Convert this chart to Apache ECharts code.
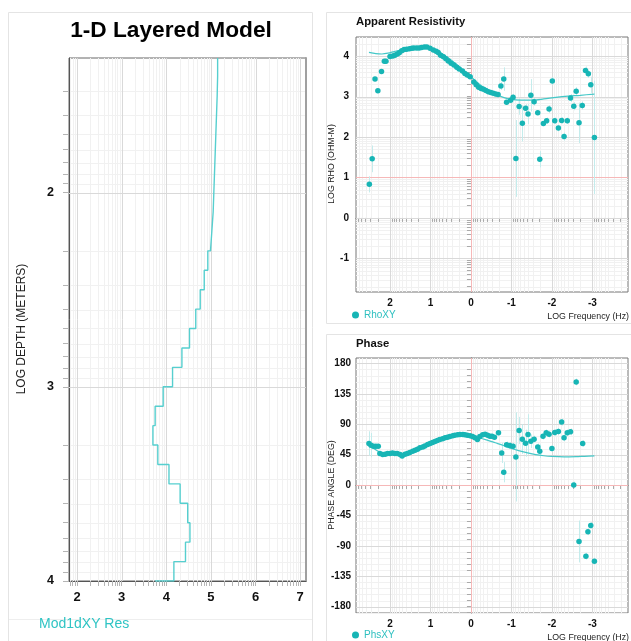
<!DOCTYPE html>
<html><head><meta charset="utf-8">
<script src="https://cdn.jsdelivr.net/npm/echarts@6/dist/echarts.min.js"></script>
<style>html,body{margin:0;padding:0;background:#fff}#c{width:631px;height:641px}</style>
</head><body><div id="c"></div>
<script>
// ---------------- DATA ----------------
// 1-D layered model: log10 depth of each layer top and log10 resistivity
const layerTop = [1.30,1.40,1.50,1.60,1.70,1.80,1.90,2.00,2.10,2.20,2.30,2.40,2.50,2.60,2.70,2.80,2.90,3.00,3.10,3.20,3.30,3.40,3.50,3.60,3.70,3.80,3.90];
const layerRes = [5.15,5.14,5.125,5.11,5.095,5.08,5.065,5.05,5.02,4.99,4.93,4.85,4.76,4.66,4.52,4.35,4.14,3.93,3.75,3.70,3.81,4.06,4.31,4.48,4.53,4.43,4.17];
const modelBottom = 4.0;
const halfSpaceRes = 3.75;
const depthTicks = [2,3,4];
const resTicks = [2,3,4,5,6,7];

// Apparent resistivity (log10 frequency, log10 rho, error half-width)
const rhoFreq = [2.51,2.44,2.37,2.30,2.21,2.14,2.10,2.00,1.93,1.88,1.82,1.77,1.71,1.65,1.59,1.52,1.46,1.41,1.34,1.28,1.22,1.15,1.09,1.01,0.93,0.86,0.81,0.75,0.68,0.62,0.56,0.49,0.42,0.35,0.29,0.21,0.15,0.09,0.02,-0.07,-0.13,-0.19,-0.25,-0.31,-0.37,-0.43,-0.49,-0.55,-0.61,-0.67,-0.74,-0.81,-0.88,-0.98,-1.04,-1.11,-1.19,-1.27,-1.35,-1.41,-1.48,-1.56,-1.65,-1.70,-1.79,-1.87,-1.93,-2.01,-2.07,-2.16,-2.24,-2.30,-2.38,-2.46,-2.54,-2.60,-2.67,-2.75,-2.83,-2.90,-2.96,-3.05];
const rhoVal  = [0.83,1.46,3.43,3.14,3.62,3.87,3.87,3.99,4.00,4.02,4.05,4.08,4.13,4.16,4.17,4.18,4.19,4.20,4.20,4.20,4.21,4.22,4.22,4.19,4.15,4.12,4.09,4.02,3.98,3.93,3.88,3.82,3.78,3.72,3.68,3.63,3.57,3.53,3.49,3.36,3.29,3.23,3.20,3.18,3.15,3.12,3.10,3.08,3.06,3.05,3.26,3.43,2.86,2.91,2.98,1.47,2.75,2.34,2.71,2.57,3.03,2.87,2.60,1.45,2.33,2.40,2.69,3.38,2.40,2.22,2.41,2.01,2.40,2.96,2.76,3.13,2.35,2.78,3.64,3.56,3.29,1.99];
const rhoErr  = [0.20,0.33,0.05,0.04,0.03,0.02,0.02,0.02,0.01,0.01,0.01,0.01,0.01,0.01,0.01,0.01,0.01,0.01,0.01,0.01,0.01,0.01,0.01,0.01,0.01,0.01,0.01,0.01,0.01,0.01,0.01,0.01,0.01,0.01,0.01,0.01,0.01,0.01,0.01,0.01,0.01,0.01,0.01,0.01,0.01,0.01,0.01,0.01,0.01,0.01,0.10,0.29,0.05,0.06,0.08,0.95,0.20,0.45,0.10,0.25,0.40,0.10,0.05,0.20,0.05,0.08,0.10,0.10,0.08,0.08,0.08,0.10,0.08,0.10,0.10,0.10,0.50,0.10,0.10,0.10,0.20,1.40];
const rhoModelFreq = [2.52,2.35,2.20,2.05,1.90,1.70,1.50,1.30,1.10,0.95,0.80,0.60,0.40,0.20,0.00,-0.20,-0.40,-0.60,-0.80,-1.00,-1.20,-1.50,-1.80,-2.10,-2.40,-2.70,-3.05];
const rhoModelVal  = [4.09,4.06,4.05,4.07,4.11,4.16,4.20,4.22,4.22,4.18,4.11,3.98,3.83,3.66,3.49,3.31,3.17,3.06,2.98,2.93,2.91,2.91,2.94,2.98,3.01,3.03,3.06];
const rhoTicks = [-1,0,1,2,3,4];

// Phase (log10 frequency, degrees, error half-width)
const phsFreq = [2.52,2.47,2.41,2.35,2.29,2.25,2.18,2.12,2.06,2.00,1.94,1.88,1.82,1.75,1.70,1.63,1.57,1.51,1.44,1.38,1.32,1.26,1.19,1.14,1.07,1.01,0.95,0.89,0.83,0.77,0.70,0.64,0.58,0.52,0.45,0.40,0.33,0.27,0.20,0.15,0.09,0.02,-0.04,-0.10,-0.16,-0.22,-0.29,-0.35,-0.41,-0.47,-0.52,-0.58,-0.68,-0.76,-0.81,-0.88,-0.96,-1.04,-1.11,-1.19,-1.27,-1.35,-1.41,-1.48,-1.56,-1.65,-1.70,-1.78,-1.86,-1.93,-2.00,-2.07,-2.16,-2.24,-2.30,-2.38,-2.46,-2.54,-2.60,-2.67,-2.76,-2.84,-2.89,-2.96,-3.05];
const phsVal  = [61.5,59,57.5,57.5,57.5,46.6,45.1,45.6,46.6,46.6,47.5,46.6,46.6,45.1,43.1,45.6,46.6,48.1,50,51.5,53,55,56.4,57.9,60,61.5,63,64.4,65.9,67.4,68.3,69.8,70.8,71.8,72.8,73.8,74.3,74.8,74.8,74.3,73.8,72.8,71.8,69.8,67.4,71.8,74.3,75.3,73.8,72.3,72.3,70.8,77.2,47.5,18.9,59.4,58.5,57.5,41.6,80.8,67.9,61.9,74.8,64.9,67.9,56.4,50,72.3,77.2,75.3,54,77.8,79.3,93.1,69.8,77.2,78.7,0,152.5,-83.6,61.5,-105.4,-69.2,-59.8,-112.9];
const phsErr  = [18,18,3,3,3,2,2,2,2,2,2,2,2,2,2,2,2,2,2,2,2,2,2,2,2,2,2,2,2,2,2,2,2,2,2,2,2,2,2,2,2,2,2,2,2,2,2,2,2,2,2,2,4,15,15,5,5,5,66,20,22,20,30,10,5,5,10,5,5,5,5,5,5,5,5,5,5,5,5,31,5,5,5,5,5];
const phsModelFreq = [2.52,2.40,2.25,2.10,1.95,1.80,1.60,1.40,1.20,1.00,0.80,0.60,0.40,0.20,0.00,-0.20,-0.40,-0.60,-0.80,-1.00,-1.20,-1.40,-1.60,-1.80,-2.00,-2.30,-2.60,-2.80,-3.05];
const phsModelVal  = [60,54,48.5,45.8,45,45.2,46.5,50,55.5,61,66,70,72.5,73.3,72.5,70,66.5,62.5,58.5,54,50.5,47.5,45,43.3,42.3,41.7,42,42.5,43];
const phsTicks = [-180,-135,-90,-45,0,45,90,135,180];
const freqTicks = [-3,-2,-1,0,1,2];

// ---------------- HELPERS ----------------
const FONT = "'Liberation Sans', Arial, Helvetica, sans-serif";
const TEAL = '#17b5b5';
const TEAL_LINE = '#45c8c8';
const ERR = '#c4ecec';
const MAJ = '#d9d9d9', MIN = '#f1f1f1', RED = '#f6b8b8';

const EXT = {
  resX: [1.82, 7.13], depthY: [1.307, 4.0],
  freqX: [-3.88, 2.84], rhoY: [-1.83, 4.47], phsY: [-189.5, 188]
};

function logPositions(lo, hi) {
  const out = [];
  for (let n = Math.floor(lo) - 1; n <= Math.ceil(hi); n++) {
    for (let k = 1; k <= 9; k++) {
      const v = n + Math.log10(k);
      if (v >= lo - 1e-9 && v <= hi + 1e-9) out.push(+v.toFixed(6));
    }
  }
  return out;
}
function minorOnly(arr) { return arr.filter(v => Math.abs(v - Math.round(v)) > 1e-6); }
function linPositions(lo, hi, step) {
  const out = [];
  for (let v = Math.ceil(lo / step) * step; v <= hi + 1e-9; v += step) out.push(+v.toFixed(6));
  return out;
}

// grid-line series drawn through the axes
function gridLines(idx, vals, dir, ref, color, width, z) {
  return {
    type: 'custom', xAxisIndex: idx, yAxisIndex: idx, silent: true, z: z, clip: false,
    encode: {x: 0, y: 1},
    data: vals.map(v => dir === 'v' ? [v, ref] : [ref, v]),
    renderItem: function (params, api) {
      const cs = params.coordSys;
      const p = api.coord([api.value(0), api.value(1)]);
      if (dir === 'v') {
        const x = Math.round(p[0]) + 0.5;
        return {type: 'line', silent: true, shape: {x1: x, y1: cs.y, x2: x, y2: cs.y + cs.height}, style: {stroke: color, lineWidth: width}};
      }
      const y = Math.round(p[1]) + 0.5;
      return {type: 'line', silent: true, shape: {x1: cs.x, y1: y, x2: cs.x + cs.width, y2: y}, style: {stroke: color, lineWidth: width}};
    }
  };
}
function errorBars(idx, xs, ys, es) {
  return {
    type: 'custom', xAxisIndex: idx, yAxisIndex: idx, silent: true, z: 3,
    encode: {x: 0, y: 1},
    data: xs.map((x, i) => [x, ys[i], es[i]]),
    renderItem: function (params, api) {
      const x = api.value(0), y = api.value(1), e = api.value(2);
      const a = api.coord([x, y - e]), b = api.coord([x, y + e]);
      const px = Math.round(a[0]) + 0.5;
      return {type: 'line', silent: true, shape: {x1: px, y1: a[1], x2: px, y2: b[1]}, style: {stroke: ERR, lineWidth: 1}};
    }
  };
}

// model line points
const modelPts = [];
for (let i = 0; i < layerTop.length; i++) {
  const top = Math.max(layerTop[i], EXT.depthY[0]);
  const bot = i + 1 < layerTop.length ? layerTop[i + 1] : modelBottom;
  modelPts.push([layerRes[i], top], [layerRes[i], bot]);
}
modelPts.push([halfSpaceRes, modelBottom]);

const resLog = logPositions(EXT.resX[0], EXT.resX[1]);
const depthLog = logPositions(EXT.depthY[0], EXT.depthY[1]);
const freqLog = logPositions(EXT.freqX[0], EXT.freqX[1]);
const rhoLog = logPositions(EXT.rhoY[0], EXT.rhoY[1]);
const phsMinor = linPositions(EXT.phsY[0], EXT.phsY[1], 9);

const labelBold = (size, margin) => ({fontFamily: FONT, fontWeight: 'bold', fontSize: size, color: '#111', margin: margin});

const option = {
  animation: false,
  backgroundColor: '#fff',
  grid: [
    {left: 69, top: 58, width: 237, height: 523, show: true, borderColor: '#666', borderWidth: 1, backgroundColor: 'transparent'},
    {left: 356, top: 37, width: 272, height: 255, show: true, borderColor: '#777', borderWidth: 1, backgroundColor: 'transparent'},
    {left: 356, top: 358, width: 272, height: 255, show: true, borderColor: '#777', borderWidth: 1, backgroundColor: 'transparent'}
  ],
  xAxis: [
    {gridIndex: 0, type: 'value', min: EXT.resX[0], max: EXT.resX[1],
      axisLine: {show: true, lineStyle: {color: '#555'}},
      axisTick: {show: true, customValues: resLog, length: 5, lineStyle: {color: '#b5b5b5'}},
      axisLabel: Object.assign({customValues: resTicks}, labelBold(13, 10)),
      splitLine: {show: false}},
    {gridIndex: 1, type: 'value', inverse: true, min: EXT.freqX[0], max: EXT.freqX[1],
      axisLine: {show: true, lineStyle: {color: '#666'}},
      axisTick: {show: true, customValues: freqLog, length: 4, lineStyle: {color: '#aaa'}},
      axisLabel: Object.assign({customValues: freqTicks}, labelBold(10, 6)),
      splitLine: {show: false}},
    {gridIndex: 2, type: 'value', inverse: true, min: EXT.freqX[0], max: EXT.freqX[1],
      axisLine: {show: true, lineStyle: {color: '#666'}},
      axisTick: {show: true, customValues: freqLog, length: 4, lineStyle: {color: '#aaa'}},
      axisLabel: Object.assign({customValues: freqTicks}, labelBold(10, 6)),
      splitLine: {show: false}}
  ],
  yAxis: [
    {gridIndex: 0, type: 'value', inverse: true, min: EXT.depthY[0], max: EXT.depthY[1],
      axisLine: {show: true, lineStyle: {color: '#555'}},
      axisTick: {show: true, customValues: depthLog, length: 6, lineStyle: {color: '#b5b5b5'}},
      axisLabel: Object.assign({customValues: depthTicks}, labelBold(12.5, 15)),
      splitLine: {show: false}},
    {gridIndex: 1, type: 'value', min: EXT.rhoY[0], max: EXT.rhoY[1],
      axisLine: {show: true, lineStyle: {color: '#666'}},
      axisTick: {show: true, customValues: rhoLog, length: 4, lineStyle: {color: '#aaa'}},
      axisLabel: Object.assign({customValues: rhoTicks}, labelBold(10, 7)),
      splitLine: {show: false}},
    {gridIndex: 2, type: 'value', min: EXT.phsY[0], max: EXT.phsY[1],
      axisLine: {show: true, lineStyle: {color: '#666'}},
      axisTick: {show: true, customValues: phsMinor, length: 4, lineStyle: {color: '#aaa'}},
      axisLabel: Object.assign({customValues: phsTicks}, labelBold(10, 5)),
      splitLine: {show: false}},
    {gridIndex: 0, type: 'value', position: 'right', inverse: true, min: EXT.depthY[0], max: EXT.depthY[1],
      axisLine: {show: true, lineStyle: {color: '#a0a0a0', width: 2}},
      axisTick: {show: false}, axisLabel: {show: false}, splitLine: {show: false}}
  ],
  legend: [
    {data: ['RhoXY'], left: 352, top: 310, padding: 0, icon: 'circle', itemWidth: 7, itemHeight: 7, selectedMode: false,
      textStyle: {color: '#2fc0c0', fontSize: 10, fontFamily: FONT}},
    {data: ['PhsXY'], left: 352, top: 630, padding: 0, icon: 'circle', itemWidth: 7, itemHeight: 7, selectedMode: false,
      textStyle: {color: '#2fc0c0', fontSize: 10, fontFamily: FONT}}
  ],
  series: [
    // left panel grid
    gridLines(0, minorOnly(resLog), 'v', 2, MIN, 1, 0),
    gridLines(0, minorOnly(depthLog), 'h', 2, MIN, 1, 0),
    gridLines(0, resTicks, 'v', 2, MAJ, 1, 1),
    gridLines(0, depthTicks.filter(v => v < EXT.depthY[1]), 'h', 2, MAJ, 1, 1),
    // rho grid
    gridLines(1, minorOnly(freqLog), 'v', 0, MIN, 1, 0),
    gridLines(1, minorOnly(rhoLog), 'h', 0, MIN, 1, 0),
    gridLines(1, freqTicks.filter(v => v !== 0), 'v', 0, MAJ, 1, 1),
    gridLines(1, rhoTicks.filter(v => v !== 1), 'h', 0, MAJ, 1, 1),
    gridLines(1, [0], 'v', 0, RED, 1, 1),
    gridLines(1, [1], 'h', 0, RED, 1, 1),
    // phase grid
    gridLines(2, minorOnly(freqLog), 'v', 0, MIN, 1, 0),
    gridLines(2, phsMinor.filter(v => v % 45 !== 0), 'h', 0, MIN, 1, 0),
    gridLines(2, freqTicks.filter(v => v !== 0), 'v', 0, MAJ, 1, 1),
    gridLines(2, phsTicks.filter(v => v !== 0), 'h', 0, MAJ, 1, 1),
    gridLines(2, [0], 'v', 0, RED, 1, 1),
    gridLines(2, [0], 'h', 0, RED, 1, 1),
    // layered model
    {name: 'Mod1dXY Res', type: 'line', xAxisIndex: 0, yAxisIndex: 0, data: modelPts, showSymbol: false, z: 5,
      lineStyle: {color: '#56cfcf', width: 1.4}, silent: true},
    // apparent resistivity
    errorBars(1, rhoFreq, rhoVal, rhoErr),
    {name: 'RhoModel', type: 'line', xAxisIndex: 1, yAxisIndex: 1, data: rhoModelFreq.map((f, i) => [f, rhoModelVal[i]]),
      showSymbol: false, smooth: 0.3, z: 4, lineStyle: {color: TEAL_LINE, width: 1.2}, silent: true},
    {name: 'RhoXY', type: 'scatter', xAxisIndex: 1, yAxisIndex: 1, data: rhoFreq.map((f, i) => [f, rhoVal[i]]),
      symbolSize: 5.5, itemStyle: {color: TEAL, opacity: 1}, z: 5, silent: true},
    // phase
    errorBars(2, phsFreq, phsVal, phsErr),
    {name: 'PhsModel', type: 'line', xAxisIndex: 2, yAxisIndex: 2, data: phsModelFreq.map((f, i) => [f, phsModelVal[i]]),
      showSymbol: false, smooth: 0.3, z: 4, lineStyle: {color: TEAL_LINE, width: 1.2}, silent: true},
    {name: 'PhsXY', type: 'scatter', xAxisIndex: 2, yAxisIndex: 2, data: phsFreq.map((f, i) => [f, phsVal[i]]),
      symbolSize: 5.5, itemStyle: {color: TEAL, opacity: 1}, z: 5, silent: true}
  ],
  graphic: [
    {type: 'rect', silent: true, z: -10, shape: {x: 8.5, y: 12.5, width: 304, height: 660}, style: {fill: 'none', stroke: '#e4e4e4', lineWidth: 1}},
    {type: 'line', silent: true, z: -10, shape: {x1: 9, y1: 619.5, x2: 312, y2: 619.5}, style: {stroke: '#eeeeee', lineWidth: 1}},
    {type: 'rect', silent: true, z: -10, shape: {x: 326.5, y: 12.5, width: 320, height: 311}, style: {fill: 'none', stroke: '#e4e4e4', lineWidth: 1}},
    {type: 'rect', silent: true, z: -10, shape: {x: 326.5, y: 334.5, width: 320, height: 330}, style: {fill: 'none', stroke: '#e4e4e4', lineWidth: 1}},
    {type: 'text', silent: true, x: 171, y: 31, style: {text: '1-D Layered Model', font: 'bold 22.7px ' + FONT, fill: '#000', align: 'center', verticalAlign: 'middle'}},
    {type: 'text', silent: true, x: 21.7, y: 329, rotation: Math.PI / 2, style: {text: 'LOG DEPTH (METERS)', font: '12px ' + FONT, fill: '#222', align: 'center', verticalAlign: 'middle'}},
    {type: 'text', silent: true, x: 39, y: 624.5, style: {text: 'Mod1dXY Res', font: '14px ' + FONT, fill: '#2fc4c4', align: 'left', verticalAlign: 'middle'}},
    {type: 'text', silent: true, x: 356, y: 22, style: {text: 'Apparent Resistivity', font: 'bold 11.3px ' + FONT, fill: '#111', align: 'left', verticalAlign: 'middle'}},
    {type: 'text', silent: true, x: 331.5, y: 164, rotation: Math.PI / 2, style: {text: 'LOG RHO (OHM-M)', font: '8.8px ' + FONT, fill: '#222', align: 'center', verticalAlign: 'middle'}},
    {type: 'text', silent: true, x: 629, y: 316.7, style: {text: 'LOG Frequency (Hz)', font: '8.8px ' + FONT, fill: '#222', align: 'right', verticalAlign: 'middle'}},
    {type: 'text', silent: true, x: 356, y: 344, style: {text: 'Phase', font: 'bold 11.3px ' + FONT, fill: '#111', align: 'left', verticalAlign: 'middle'}},
    {type: 'text', silent: true, x: 331.5, y: 485, rotation: Math.PI / 2, style: {text: 'PHASE ANGLE (DEG)', font: '8.8px ' + FONT, fill: '#222', align: 'center', verticalAlign: 'middle'}},
    {type: 'text', silent: true, x: 629, y: 637.5, style: {text: 'LOG Frequency (Hz)', font: '8.8px ' + FONT, fill: '#222', align: 'right', verticalAlign: 'middle'}}
  ]
};

const chart = echarts.init(document.getElementById('c'), null, {renderer: 'canvas', width: 631, height: 641});
chart.setOption(option);
</script>
</body></html>
